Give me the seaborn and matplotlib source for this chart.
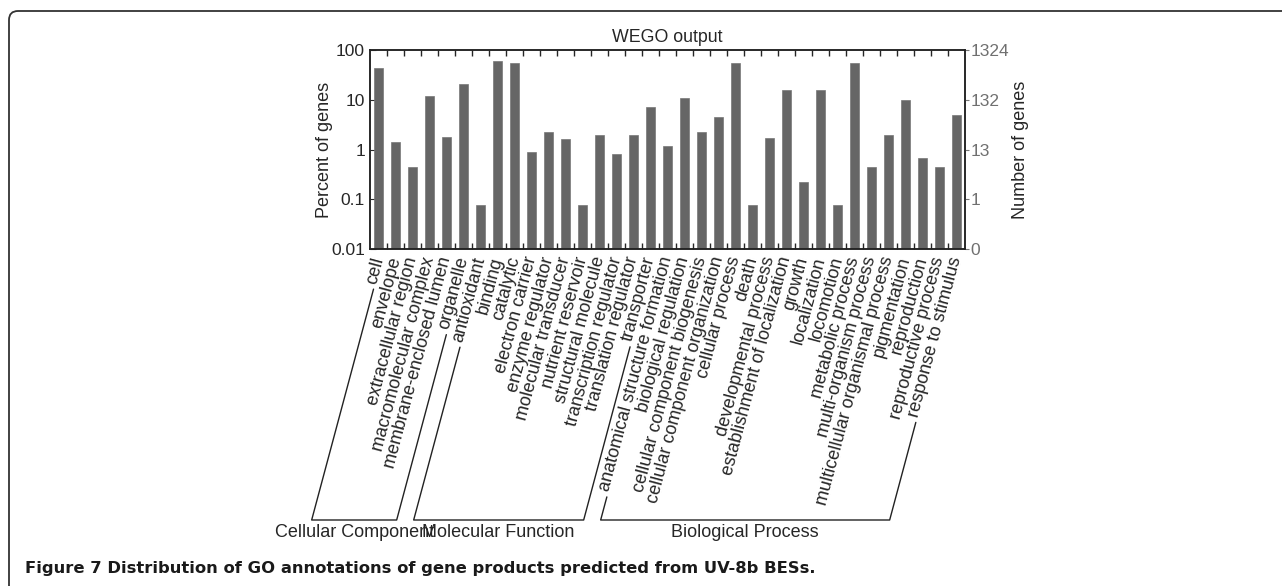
import numpy as np
import pandas as pd
import seaborn as sns
import matplotlib
matplotlib.use("Agg")
import matplotlib.pyplot as plt
from matplotlib.lines import Line2D
from matplotlib.patches import FancyBboxPatch
from matplotlib.transforms import IdentityTransform
from matplotlib.ticker import NullLocator, FixedLocator

# GO terms, grouped as in the WEGO output
cellular = ["cell", "envelope", "extracellular region", "macromolecular complex",
            "membrane-enclosed lumen", "organelle"]
molecular = ["antioxidant", "binding", "catalytic", "electron carrier", "enzyme regulator",
             "molecular transducer", "nutrient reservoir", "structural molecule",
             "transcription regulator", "translation regulator", "transporter"]
biological = ["anatomical structure formation", "biological regulation",
              "cellular component biogenesis", "cellular component organization",
              "cellular process", "death", "developmental process",
              "establishment of localization", "growth", "localization", "locomotion",
              "metabolic process", "multi-organism process",
              "multicellular organismal process", "pigmentation", "reproduction",
              "reproductive process", "response to stimulus"]

# percent of genes
cellular_pct = [42.8, 1.39, 0.45, 11.9, 1.76, 20.4]
molecular_pct = [0.075, 59.0, 55.6, 0.88, 2.28, 1.63, 0.075, 2.0, 0.81, 2.0, 7.3]
biological_pct = [1.17, 10.7, 2.2, 4.5, 55.6, 0.075, 1.68, 15.5, 0.22, 15.9, 0.075,
                  54.0, 0.45, 2.0, 10.0, 0.68, 0.45, 4.9]

group_names = ["Cellular Component", "Molecular Function", "Biological Process"]
pct_ticks = [0.01, 0.1, 1, 10, 100]
pct_labels = ["0.01", "0.1", "1", "10", "100"]
gene_labels = ["0", "1", "13", "132", "1324"]

caption = "Figure 7 Distribution of GO annotations of gene products predicted from UV-8b BESs."

df = pd.DataFrame({
    "term": cellular + molecular + biological,
    "percent": cellular_pct + molecular_pct + biological_pct,
    "group": [group_names[0]] * len(cellular) + [group_names[1]] * len(molecular)
             + [group_names[2]] * len(biological),
})
n = len(df)

sns.set_style("ticks")
plt.rcParams["font.family"] = ["Liberation Sans", "DejaVu Sans"]
plt.rcParams["axes.edgecolor"] = "#222222"
plt.rcParams["axes.linewidth"] = 1.1

W, H = 1282, 586
fig = plt.figure(figsize=(W / 100, H / 100), dpi=100)
ax = fig.add_axes([370 / W, 1 - 249 / H, 595 / W, 199 / H])

sns.barplot(data=df, x="term", y="percent", color="#666666", saturation=1,
            width=0.55, edgecolor="#777777", linewidth=0.5, ax=ax)
ax.set_yscale("log")
ax.set_ylim(0.01, 100)
ax.set_xlim(-0.5, n - 0.5)
ax.set_xlabel("")
ax.set_ylabel("Percent of genes", fontsize=13)
ax.yaxis.set_label_coords(-0.062, 0.5)
ax.set_yticks(pct_ticks, pct_labels)
ax.yaxis.set_minor_locator(NullLocator())
ax.tick_params(axis="y", direction="in", length=4, labelsize=12.5, pad=3.6)

rot = 75
ax.set_xticks(range(n))
ax.set_xticklabels(df["term"], rotation=rot, ha="right", va="center",
                   rotation_mode="anchor", fontsize=13)
ax.tick_params(axis="x", which="major", length=0, pad=5.8)
ax.xaxis.set_minor_locator(FixedLocator(np.arange(0.5, n - 1, 1.0)))
ax.tick_params(axis="x", which="minor", direction="in", length=4, width=1,
               top=True, bottom=True)
ax.set_title("WEGO output", fontsize=12.8, pad=6)

ax2 = ax.twinx()
ax2.set_yscale("log")
ax2.set_ylim(0.01, 100)
ax2.set_yticks(pct_ticks, gene_labels)
ax2.yaxis.set_minor_locator(NullLocator())
ax2.tick_params(axis="y", direction="out", length=3, color="#777777",
                labelcolor="#707070", labelsize=12.5, pad=1)
ax2.set_ylabel("Number of genes", fontsize=13)
ax2.yaxis.set_label_coords(1.079, 0.5)

# group brackets that follow the direction of the rotated labels
fig.canvas.draw()
renderer = fig.canvas.get_renderer()
theta = np.deg2rad(rot)
u = np.array([np.cos(theta), np.sin(theta)])
side = np.array([np.sin(theta), -np.cos(theta)])
base_y = 1 - 520 / H
base_disp = fig.transFigure.transform((0, base_y))[1]
ticklabels = ax.get_xticklabels()


def leg(i, gap=5.0, shift=3.5):
    lbl = ticklabels[i]
    w, h, d = renderer.get_text_width_height_descent(lbl.get_text(),
                                                     lbl.get_fontproperties(), ismath=False)
    anchor = np.array(lbl.get_transform().transform(lbl.get_position()))
    top = anchor - (w + gap) * u + shift * side
    bottom = np.array([top[0] - (top[1] - base_disp) / np.tan(theta), base_disp])
    return top, bottom


to_fig = fig.transFigure.inverted()
start = 0
for name, size in zip(group_names, [len(cellular), len(molecular), len(biological)]):
    t0, b0 = leg(start)
    t1, b1 = leg(start + size - 1)
    pts = to_fig.transform(np.array([t0, b0, b1, t1]))
    fig.add_artist(Line2D(pts[:, 0], pts[:, 1], transform=fig.transFigure,
                          color="#222222", lw=1.0))
    fig.text((pts[1, 0] + pts[2, 0]) / 2, base_y - 4 / H, name, ha="center", va="top",
             fontsize=13)
    start += size

# page frame and caption
frame = FancyBboxPatch((9, -60), 1500, H - 11 + 60,
                       boxstyle="round,pad=0,rounding_size=9",
                       transform=IdentityTransform(), fill=False,
                       edgecolor="#333333", lw=1.3)
fig.add_artist(frame)
fig.text(25 / W, 1 - 568 / H, caption, ha="left", va="center", fontsize=11.8,
         fontweight="bold", family=["DejaVu Sans"], color="#1a1a1a")

fig.savefig("out.png", dpi=100)
plt.close(fig)
